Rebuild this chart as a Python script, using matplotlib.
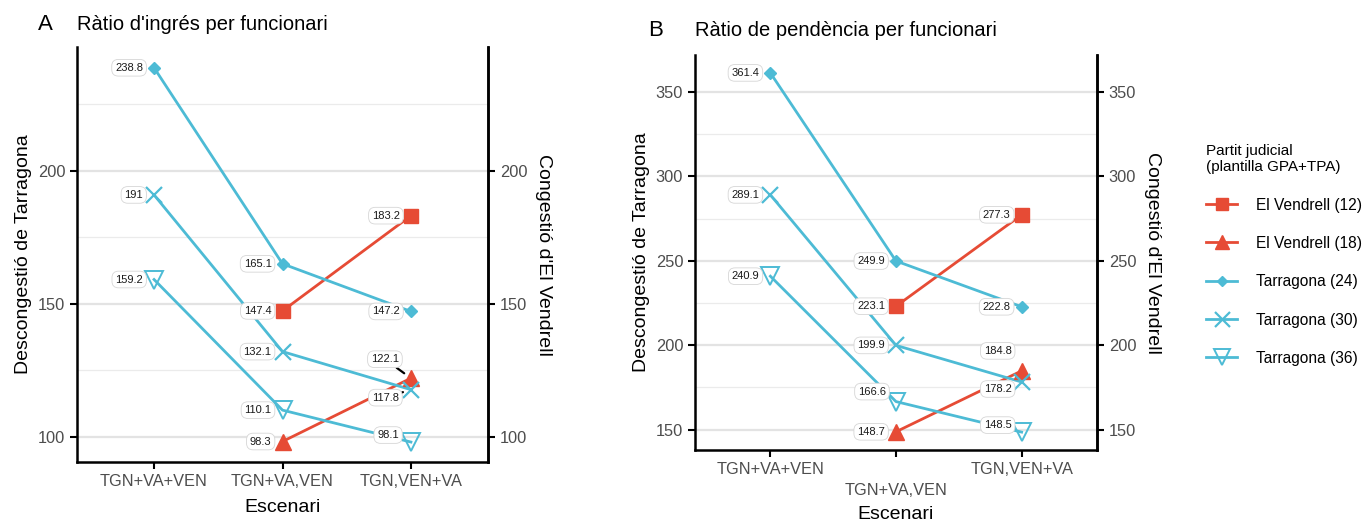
import matplotlib
matplotlib.use("Agg")
import matplotlib.pyplot as plt
from matplotlib.lines import Line2D
from matplotlib.ticker import MultipleLocator

plt.rcParams['font.family'] = ['Liberation Sans', 'DejaVu Sans']

escenaris = ['TGN+VA+VEN', 'TGN+VA,VEN', 'TGN,VEN+VA']
series = ['El Vendrell (12)', 'El Vendrell (18)', 'Tarragona (24)', 'Tarragona (30)', 'Tarragona (36)']

# panel A: ratio d'ingres per funcionari (None = no value in that scenario)
ingres_ven12 = [None, 147.4, 183.2]
ingres_ven18 = [None, 98.3, 122.1]
ingres_tgn24 = [238.8, 165.1, 147.2]
ingres_tgn30 = [191, 132.1, 117.8]
ingres_tgn36 = [159.2, 110.1, 98.1]

# panel B: ratio de pendencia per funcionari
pend_ven12 = [None, 223.1, 277.3]
pend_ven18 = [None, 148.7, 184.8]
pend_tgn24 = [361.4, 249.9, 222.8]
pend_tgn30 = [289.1, 199.9, 178.2]
pend_tgn36 = [240.9, 166.6, 148.5]

RED = '#E64B35'
BLUE = '#4DBBD5'
styles = [
    dict(color=RED, marker='s', ms=10),
    dict(color=RED, marker='^', ms=11),
    dict(color=BLUE, marker='D', ms=6),
    dict(color=BLUE, marker='x', ms=12, mew=1.6),
    dict(color=BLUE, marker='v', ms=13, mfc='none', mew=1.4),
]

# label offsets (pixels) for labels that ggrepel pushed away
shift_a = {(1, 2): (-12, 19, True), (3, 2): (-12, -8, True), (4, 2): (-12, 7, False)}
shift_b = {(1, 2): (-10, 20, False), (3, 2): (-10, -7, False), (4, 2): (-10, 7, False), (4, 1): (-10, 10, False)}


def draw_panel(ax, data, ylim, major, minor, shifts, dodge=False):
    xs = range(len(escenaris))
    for i, vals in enumerate(data):
        pts = [(x, v) for x, v in zip(xs, vals) if v is not None]
        px = [p[0] for p in pts]
        py = [p[1] for p in pts]
        st = styles[i]
        ax.plot(px, py, color=st['color'], lw=2, zorder=3)
        ax.plot(px, py, ls='none', marker=st['marker'], ms=st['ms'], color=st['color'],
                mfc=st.get('mfc', st['color']), mew=st.get('mew', 1), zorder=4)
        for x, v in pts:
            dx, dy, seg = shifts.get((i, x), (-11, 0, False))
            txt = f'{v:g}'
            kw = {}
            if seg:
                kw['arrowprops'] = dict(arrowstyle='-', color='black', lw=1.6, shrinkA=0, shrinkB=6)
            ax.annotate(txt, (x, v), xytext=(dx, dy), textcoords='offset pixels',
                        ha='right', va='center', fontsize=8, color='#1A1A1A', zorder=5,
                        bbox=dict(boxstyle='round,pad=0.3,rounding_size=0.6', fc='white', ec='#D6D6D6', lw=0.6),
                        **kw)
    ax.set_xlim(-0.6, 2.6)
    ax.set_ylim(*ylim)
    ax.yaxis.set_major_locator(MultipleLocator(major))
    ax.yaxis.set_minor_locator(MultipleLocator(minor))
    ax.grid(axis='y', which='major', color='#E3E3E3', lw=1.6, zorder=0)
    ax.grid(axis='y', which='minor', color='#EBEBEB', lw=0.9, zorder=0)
    ax.tick_params(axis='y', which='minor', length=0)
    ax.set_xticks(list(xs))
    if dodge:
        ax.set_xticklabels([escenaris[0], '\n' + escenaris[1], escenaris[2]], linespacing=1.5)
    else:
        ax.set_xticklabels(escenaris)
    ax.tick_params(which='major', length=5, width=1.5, colors='black', labelcolor='#4D4D4D', labelsize=11.8)
    ax.spines['top'].set_visible(False)
    for s in ['left', 'right', 'bottom']:
        ax.spines[s].set_linewidth(1.8)
    ax.set_xlabel('Escenari', fontsize=14, labelpad=6 if dodge else 7)
    ax.set_ylabel('Descongestió de Tarragona', fontsize=14, labelpad=4)
    # right axis repeats the same scale
    twin = ax.twinx()
    twin.set_ylim(*ylim)
    twin.yaxis.set_major_locator(MultipleLocator(major))
    twin.tick_params(length=5, width=1.5, colors='black', labelcolor='#4D4D4D', labelsize=11.8)
    for s in ['left', 'top', 'bottom']:
        twin.spines[s].set_visible(False)
    twin.spines['right'].set_linewidth(1.8)
    twin.set_ylabel("Congestió d'El Vendrell", fontsize=14, rotation=270, labelpad=18)


fig = plt.figure(figsize=(13.67, 5.32), dpi=100)
ax1 = fig.add_axes([77 / 1367, 1 - 462 / 532, 411 / 1367, 415 / 532])
ax2 = fig.add_axes([695 / 1367, 1 - 450 / 532, 402 / 1367, 395 / 532])

draw_panel(ax1, [ingres_ven12, ingres_ven18, ingres_tgn24, ingres_tgn30, ingres_tgn36],
           (90.6, 246.6), 50, 25, shift_a)
draw_panel(ax2, [pend_ven12, pend_ven18, pend_tgn24, pend_tgn30, pend_tgn36],
           (137.9, 372), 50, 25, shift_b, dodge=True)

ax1.set_title("Ràtio d'ingrés per funcionari", loc='left', fontsize=14.5, pad=12)
ax2.set_title('Ràtio de pendència per funcionari', loc='left', fontsize=14.5, pad=14)
fig.text(38 / 1367, 1 - 25 / 532, 'A', fontsize=16, va='center')
fig.text(648 / 1367, 1 - 30 / 532, 'B', fontsize=16, va='center')

handles = [Line2D([], [], color=st['color'], lw=2, marker=st['marker'], ms=st['ms'] * 0.9,
                  mfc=st.get('mfc', st['color']), mew=st.get('mew', 1)) for st in styles]
leg = fig.legend(handles, series, title='Partit judicial\n(plantilla GPA+TPA)', loc='upper left',
                 bbox_to_anchor=(1192 / 1367, 1 - 130 / 532), frameon=False, fontsize=11.2,
                 title_fontsize=11, labelspacing=1.5, handlelength=2.0, handletextpad=1.2)
leg._legend_box.align = 'left'

fig.savefig('out.png', dpi=100)
